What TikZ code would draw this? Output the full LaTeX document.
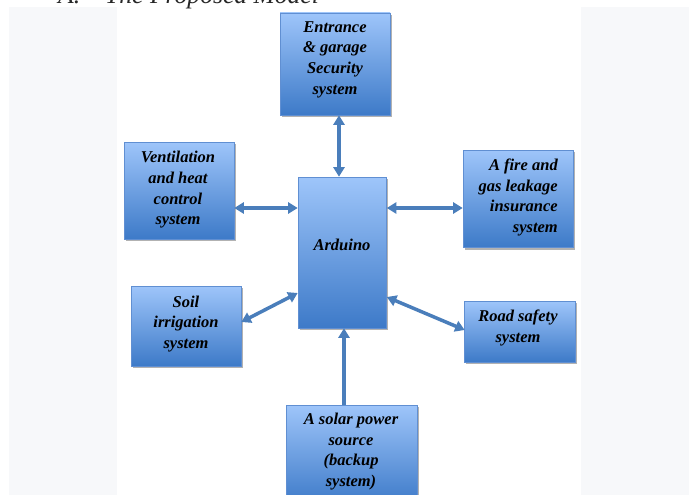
\documentclass[tikz,border=0pt]{standalone}
\usepackage{fontspec}
\setmainfont{Liberation Serif}
\newfontfamily\boxfont{Liberation Serif}[UprightFont={* Bold Italic}]
\usetikzlibrary{arrows.meta,shadows,calc}
\definecolor{arrblue}{RGB}{74,126,187}
\definecolor{boxtop}{RGB}{158,197,250}
\definecolor{boxbot}{RGB}{61,122,200}
\definecolor{boxline}{RGB}{96,143,210}
\definecolor{pagegray}{RGB}{247,248,250}
\begin{document}
\begin{tikzpicture}[x=1pt,y=-1pt,
  box/.style={rectangle, draw=boxline, line width=0.6pt, top color=boxtop, bottom color=boxbot, inner sep=0pt,
    drop shadow={shadow xshift=1.5pt, shadow yshift=-2pt, opacity=0.3, fill=black}},
  txt/.style={font=\boxfont\fontsize{16.5}{20.7}\selectfont, align=center, inner sep=0pt, text=black},
  link/.style={draw=arrblue, line width=3.5pt},
  dbl/.style={link, {Triangle[length=9.5pt,width=11pt]}-{Triangle[length=9.5pt,width=11pt]}},
  one/.style={link, -{Triangle[length=9.5pt,width=11pt]}},
  title/.style={anchor=base west, font=\itshape\fontsize{25.6}{30}\selectfont, inner sep=0pt, text=black!85}]
\useasboundingbox (0,0) rectangle (691,495);
\clip (0,0) rectangle (691,495);
\fill[white] (0,0) rectangle (691,495);
\fill[pagegray] (9,7) rectangle (117,495);
\fill[pagegray] (581,7) rectangle (689,495);

\node[title] (tA) at (58,3.5) {A.};
\node[title] (tT) at (105,3.5) {The Proposed Model};

\node[box, minimum width=110pt, minimum height=102pt] (ent) at (335,64) {};
\node[box, minimum width=110pt, minimum height=97pt] (vent) at (179,190.5) {};
\node[box, minimum width=88.5pt, minimum height=151pt] (ard) at (342.25,252.5) {};
\node[box, minimum width=110.5pt, minimum height=97.5pt] (fire) at (518.25,198.75) {};
\node[box, minimum width=110pt, minimum height=80pt] (soil) at (186,326) {};
\node[box, minimum width=111pt, minimum height=61pt] (road) at (519.5,331.5) {};
\node[box, minimum width=131pt, minimum height=100pt] (solar) at (351.5,455) {};

\node[txt] (entT) at (335,59.5) {Entrance\\\& garage\\Security\\system};
\node[txt] (ventT) at (178,190) {Ventilation\\and heat\\control\\system};
\node[txt] (ardT) at (342,245) {Arduino};
\node[txt, align=right, anchor=east] (fireT) at (558,197.5) {A fire and\\gas leakage\\insurance\\system};
\node[txt] (soilT) at (186,324) {Soil\\irrigation\\system};
\node[txt] (roadT) at (518,328) {Road safety\\system};
\node[txt] (solarT) at (351,451.5) {A solar power\\source\\(backup\\system)};

\draw[dbl] ($(ent.south)+(4,0)$) -- ($(ard.north)+(-3.25,0)$);
\draw[dbl] ($(vent.east)+(0,17.5)$) -- ($(ard.west)+(0,-44.5)$);
\draw[dbl] ($(ard.east)+(0,-44.5)$) -- ($(fire.west)+(0,9.25)$);
\draw[dbl] ($(soil.east)+(0,-4)$) -- ($(ard.west)+(0,40.5)$);
\draw[dbl] ($(ard.east)+(0,44.5)$) -- ($(road.west)+(1,-1.5)$);
\draw[one] ($(solar.north)+(-7.5,0)$) -- ($(ard.south)+(1.75,0)$);
\end{tikzpicture}
\end{document}
